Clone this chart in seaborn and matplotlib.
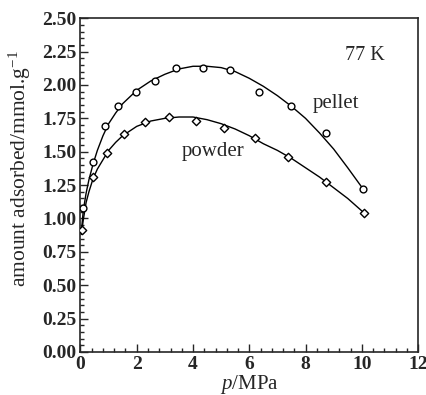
import matplotlib
matplotlib.use("Agg")
import matplotlib.pyplot as plt
from matplotlib.ticker import MultipleLocator, FormatStrFormatter
import seaborn as sns

# measured points
pellet_p = [0.10, 0.45, 0.87, 1.35, 1.97, 2.64, 3.39, 4.34, 5.30, 6.36, 7.50, 8.74, 10.05]
pellet_q = [1.08, 1.42, 1.69, 1.84, 1.95, 2.03, 2.13, 2.13, 2.11, 1.95, 1.84, 1.64, 1.22]
powder_p = [0.06, 0.45, 0.94, 1.55, 2.29, 3.14, 4.10, 5.09, 6.19, 7.39, 8.74, 10.09]
powder_q = [0.91, 1.31, 1.49, 1.63, 1.72, 1.76, 1.73, 1.68, 1.60, 1.46, 1.27, 1.04]

# fitted curves
pellet_fit_p = [0.03, 0.1, 0.2, 0.3, 0.45, 0.6, 0.8, 1.0, 1.25, 1.5, 2.0, 2.5, 3.0, 3.5, 4.0,
                4.5, 5.0, 5.5, 6.0, 6.5, 7.0, 7.5, 8.0, 8.5, 9.0, 9.5, 10.05]
pellet_fit_q = [0.90, 1.06, 1.19, 1.29, 1.41, 1.51, 1.62, 1.71, 1.79, 1.86, 1.96, 2.03, 2.08, 2.12,
                2.14, 2.14, 2.13, 2.10, 2.05, 1.99, 1.92, 1.84, 1.75, 1.64, 1.52, 1.38, 1.22]
powder_fit_p = [0.03, 0.1, 0.2, 0.3, 0.45, 0.6, 0.8, 1.0, 1.25, 1.5, 2.0, 2.5, 3.0, 3.5, 4.0,
                4.5, 5.0, 5.5, 6.0, 6.5, 7.0, 7.5, 8.0, 8.5, 9.0, 9.5, 10.09]
powder_fit_q = [0.88, 0.99, 1.12, 1.20, 1.30, 1.37, 1.44, 1.51, 1.57, 1.62, 1.69, 1.73, 1.75, 1.76,
                1.76, 1.74, 1.71, 1.67, 1.62, 1.56, 1.51, 1.45, 1.38, 1.31, 1.23, 1.15, 1.04]

sns.set_style("ticks")
plt.rcParams["font.family"] = ["Liberation Serif", "DejaVu Serif"]
plt.rcParams["mathtext.fontset"] = "custom"
plt.rcParams["mathtext.it"] = "Liberation Serif:italic"
plt.rcParams["mathtext.rm"] = "Liberation Serif"

fig = plt.figure(figsize=(4.27, 3.95), dpi=100)
ax = fig.add_axes([0.1885, 0.1089, 0.7905, 0.845])

sns.lineplot(x=pellet_fit_p, y=pellet_fit_q, ax=ax, color="black", lw=1.0, sort=False)
sns.lineplot(x=powder_fit_p, y=powder_fit_q, ax=ax, color="black", lw=1.0, sort=False)
sns.scatterplot(x=pellet_p, y=pellet_q, ax=ax, marker="o", s=24, facecolor="white",
                edgecolor="black", linewidth=1.0, zorder=3)
sns.scatterplot(x=powder_p, y=powder_q, ax=ax, marker="D", s=18, facecolor="white",
                edgecolor="black", linewidth=1.0, zorder=3)

ax.set_xlim(0, 12)
ax.set_ylim(0, 2.5)
ax.xaxis.set_major_locator(MultipleLocator(2))
ax.xaxis.set_minor_locator(MultipleLocator(0.4))
ax.yaxis.set_major_locator(MultipleLocator(0.25))
ax.yaxis.set_minor_locator(MultipleLocator(0.05))
ax.yaxis.set_major_formatter(FormatStrFormatter("%.2f"))
ax.tick_params(which="both", direction="in", top=False, right=False, width=1.0)
ax.tick_params(which="major", length=6, labelsize=14, pad=3)
ax.tick_params(which="minor", length=3)
for lab in ax.get_xticklabels() + ax.get_yticklabels():
    lab.set_fontweight("bold")
for sp in ax.spines.values():
    sp.set_visible(True)
    sp.set_linewidth(1.2)

ax.set_xlabel("$p$/MPa", fontsize=15, labelpad=0)
ax.set_ylabel("amount adsorbed/mmol.g$^{-1}$", fontsize=15.5)
ax.yaxis.set_label_coords(-0.14, 0.55)

ax.text(10.1, 2.22, "77 K", fontsize=14.5, ha="center", va="center")
ax.text(9.1, 1.86, "pellet", fontsize=15, ha="center", va="center")
ax.text(4.7, 1.50, "powder", fontsize=15, ha="center", va="center")

fig.savefig("out.png", dpi=100)
